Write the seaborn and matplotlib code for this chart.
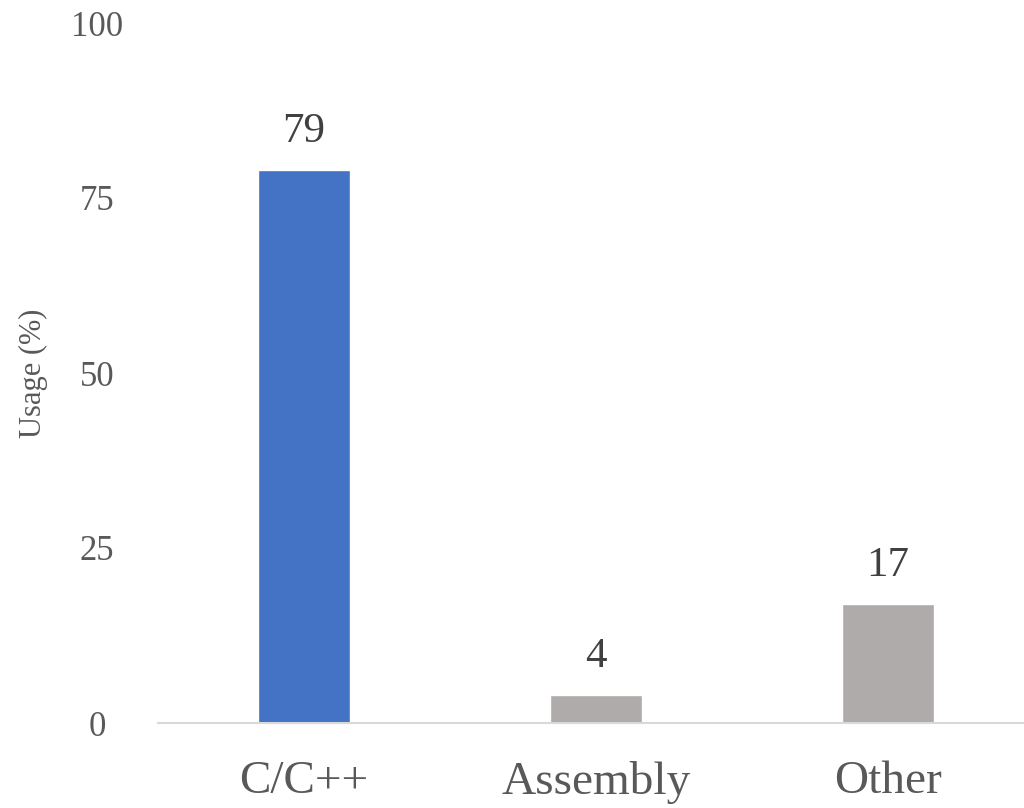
import matplotlib
matplotlib.use("Agg")
import matplotlib.pyplot as plt
import seaborn as sns
import pandas as pd

categories = ["C/C++", "Assembly", "Other"]
usage = [79, 4, 17]
bar_colors = ["#4472C4", "#AFABAB", "#AFABAB"]
yticks = [0, 25, 50, 75, 100]

sns.set_theme(style="white")
plt.rcParams['font.family'] = ['Liberation Serif', 'DejaVu Serif']

df = pd.DataFrame({"Language": categories, "Usage": usage})

fig = plt.figure(figsize=(10.24, 8.08), dpi=100)
ax = fig.add_axes([158/1024, 85/808, (1034-158)/1024, (723-23)/808])

sns.barplot(data=df, x="Language", y="Usage", hue="Language",
            palette=dict(zip(categories, bar_colors)), width=0.315,
            legend=False, ax=ax, saturation=1)

ax.set_xlim(-0.5, 2.5)
ax.set_ylim(0, 100)
ax.set_yticks(yticks)
ax.set_yticklabels([str(t) for t in yticks])
for lab in ax.get_yticklabels():
    lab.set_ha("center")
ax.tick_params(axis="y", length=0, pad=44, labelsize=25, labelcolor="#595959")
ax.tick_params(axis="x", length=0, pad=27, labelsize=34, labelcolor="#595959")

for s in ["top", "right", "left"]:
    ax.spines[s].set_visible(False)
ax.spines["bottom"].set_color("#D9D9D9")
ax.spines["bottom"].set_linewidth(1.5)

ax.set_xlabel("")
ax.set_ylabel("Usage (%)", fontsize=22, color="#595959")
ax.yaxis.set_label_coords((48 - 158) / 876, 0.5)

for container in ax.containers:
    ax.bar_label(container, fmt="%d", padding=14, fontsize=31, color="#404040")

fig.savefig("out.png", dpi=100)
